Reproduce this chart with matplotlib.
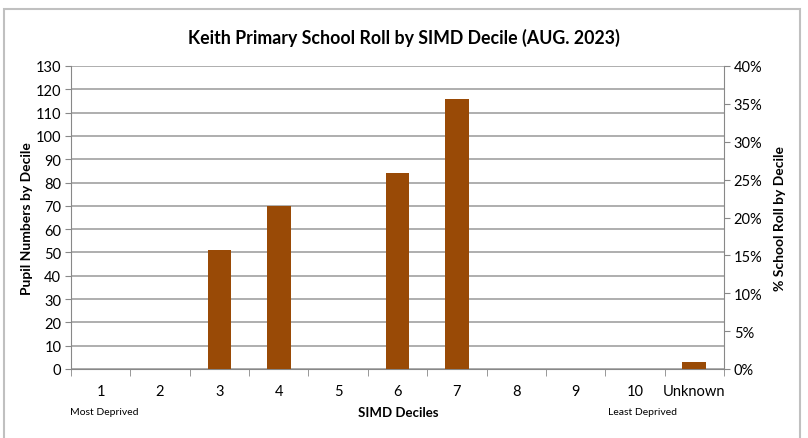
import matplotlib.pyplot as plt
import numpy as np
from matplotlib.patches import Rectangle

plt.rcParams['font.family'] = ['Lato', 'DejaVu Sans']

deciles = ['1', '2', '3', '4', '5', '6', '7', '8', '9', '10', 'Unknown']
pupils = [0, 0, 51, 70, 0, 84, 116, 0, 0, 0, 3]
left_ticks = list(range(0, 131, 10))
right_ticks = list(range(0, 41, 5))

bar_color = '#994A06'
axis_color = '#888888'

fig = plt.figure(figsize=(8.08, 4.39), dpi=100)
# chart frame (bottom edge runs off the picture)
fig.patches.append(Rectangle((4 / 808, -5 / 439), 796 / 808, 434 / 439, transform=fig.transFigure,
                             fill=False, edgecolor='#c0c0c0', linewidth=1.5))

ax = fig.add_axes([71 / 808, 69 / 439, 653 / 808, 303 / 439])
x = np.arange(len(deciles))
ax.bar(x, pupils, width=0.4, color=bar_color, zorder=3)
ax.set_xlim(-0.5, len(deciles) - 0.5)
ax.set_ylim(0, 130)
ax.set_yticks(left_ticks)
ax.tick_params(axis='y', labelsize=10.5, length=4, color=axis_color, pad=3)
ax.set_xticks(x)
ax.set_xticklabels(deciles, fontsize=10.5)
ax.set_xticks(np.arange(-0.5, len(deciles), 1), minor=True)
ax.tick_params(axis='x', which='major', length=0, pad=11)
ax.tick_params(axis='x', which='minor', length=5, color=axis_color)
ax.grid(axis='y', color='#999999', linewidth=1.1, zorder=0)
for side in ['top', 'right']:
    ax.spines[side].set_visible(False)
for side in ['left', 'bottom']:
    ax.spines[side].set_color(axis_color)
ax.set_ylabel('Pupil Numbers by Decile', fontsize=10, fontweight='bold', labelpad=2)

ax2 = ax.twinx()
ax2.set_ylim(0, 40)
ax2.set_yticks(right_ticks)
ax2.set_yticklabels([f'{t}%' for t in right_ticks])
ax2.tick_params(axis='y', labelsize=10.5, length=4, color=axis_color, pad=3)
for side in ['top', 'left', 'bottom']:
    ax2.spines[side].set_visible(False)
ax2.spines['right'].set_color(axis_color)
ax2.set_ylabel('% School Roll by Decile', fontsize=10, fontweight='bold', labelpad=8)

fig.text(0.5, 1 - 38 / 439, 'Keith Primary School Roll by SIMD Decile (AUG. 2023)',
         ha='center', va='center', fontsize=12.8, fontweight='bold')
fig.text(398 / 808, 1 - 413 / 439, 'SIMD Deciles', ha='center', va='center',
         fontsize=9.5, fontweight='bold')
fig.text(104 / 808, 1 - 413 / 439, 'Most Deprived', ha='center', va='center', fontsize=7.5)
fig.text(643 / 808, 1 - 413 / 439, 'Least Deprived', ha='center', va='center', fontsize=7.5)

fig.savefig('out.png', dpi=100)
